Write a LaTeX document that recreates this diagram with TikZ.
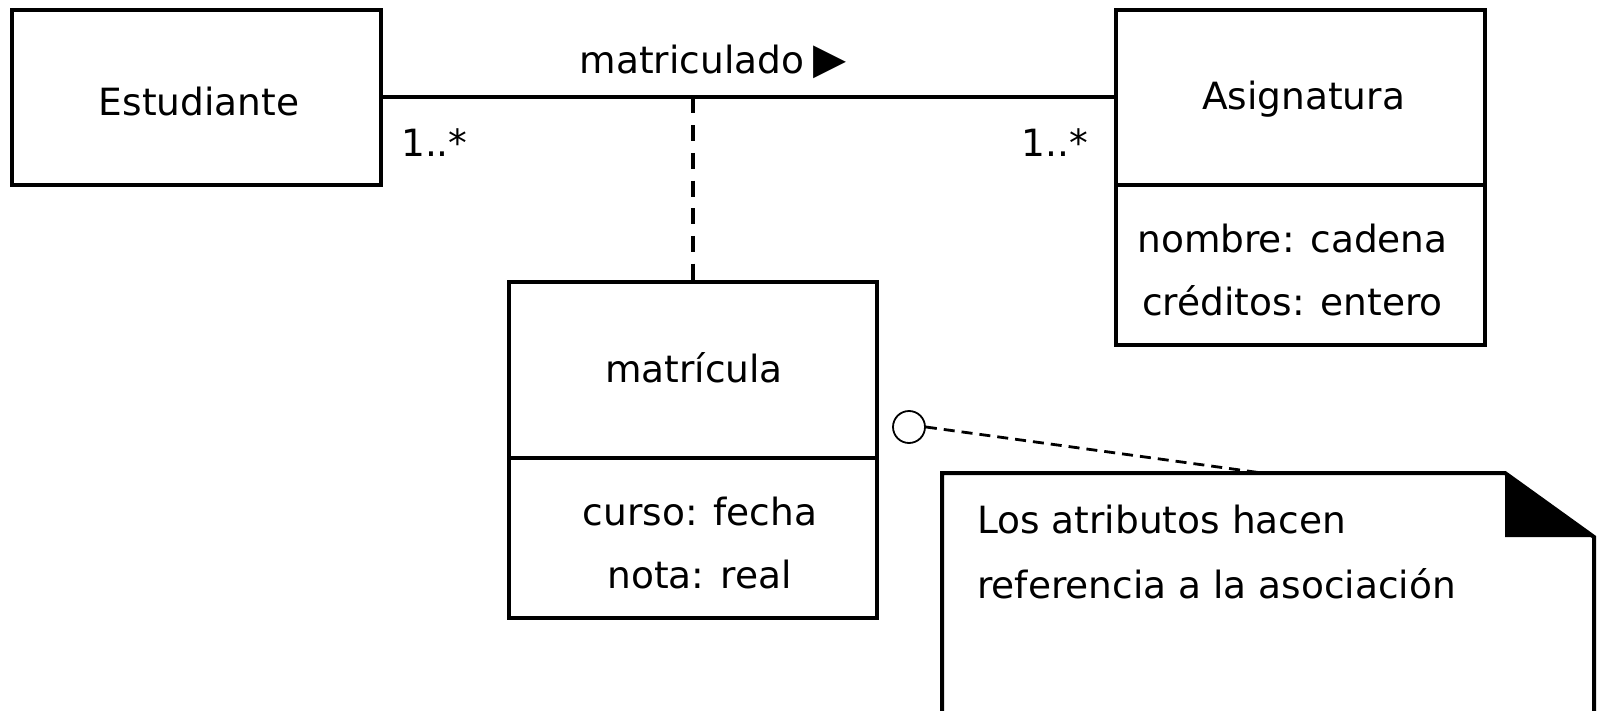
\documentclass[tikz,border=0pt]{standalone}
\usepackage{fontspec}
\setmainfont{DejaVu Sans}
\begin{document}
\begin{tikzpicture}[x=1pt,y=-1pt,
  umlbox/.style={draw, line width=4pt, rectangle, inner sep=0pt},
  txt/.style={inner sep=0pt, anchor=base, font=\fontsize{37.5}{37.5}\selectfont},
  assoc/.style={line width=4pt},
  assocdash/.style={line width=3.8pt, dash pattern=on 16pt off 11.7pt},
  notedash/.style={line width=2.8pt, dash pattern=on 11pt off 7pt},
  notebox/.style={line width=4pt, line join=miter}
]
\useasboundingbox (0,0) rectangle (1597,711);
\fill[white] (0,0) rectangle (1597,711);

% Estudiante
\node[umlbox, minimum width=369pt, minimum height=175pt] (est) at (196.5,97.5) {};
\node[txt] (estT) at (199,116) {Estudiante};

% Asignatura
\node[umlbox, minimum width=369pt, minimum height=175pt] (asigN) at (1300.5,97.5) {};
\node[umlbox, minimum width=369pt, minimum height=160pt] (asigA) at (1300.5,265) {};
\node[txt] (asigT) at (1303.5,110) {Asignatura};
\node[txt] (asigA1) at (1292.5,253) {nombre: cadena};
\node[txt] (asigA2) at (1292.5,315) {créditos: entero};

% matricula
\node[umlbox, minimum width=368pt, minimum height=176pt] (matN) at (693,370) {};
\node[umlbox, minimum width=368pt, minimum height=160pt] (matA) at (693,538) {};
\node[txt] (matT) at (694,382) {matrícula};
\node[txt] (matA1) at (700,525) {curso: fecha};
\node[txt] (matA2) at (699.5,588) {nota: real};

% association
\draw[assoc] (est.east) -- (asigN.west);
\node[txt] (assocL) at (692,74) {matriculado};
\node[txt, anchor=base west, font=\fontsize{43}{43}\selectfont] (assocDir) at ([xshift=9pt]assocL.base east) {▶};
\node[txt, anchor=base west] (multL) at (401,157) {1..*};
\node[txt, anchor=base east] (multR) at (1088,157) {1..*};
\coordinate (assocMid) at (matN.north |- est.east);
\draw[assocdash] (assocMid) -- (matN.north);

% note
\node[circle, draw, line width=1.8pt, minimum size=32pt, inner sep=0pt] (circ) at (909,427) {};
\coordinate (nTL) at (942,473);
\coordinate (nFold) at (1505,473);
\coordinate (nFoldB) at (1505,537);
\coordinate (nFoldR) at (1594,537);
\coordinate (nBR) at (1594,740);
\coordinate (nBL) at (942,740);
\coordinate (nAttach) at (1262,473);
\begin{scope}
\clip (0,0) rectangle (1597,711);
\draw[notebox] (nBL) -- (nTL) -- (nFold) -- (nFoldR) -- (nBR);
\fill (nFold) -- (nFoldB) -- (nFoldR) -- cycle;
\end{scope}
\draw[notedash] (circ.east) -- (nAttach);
\node[txt, anchor=base west] (note1) at (977,533) {Los atributos hacen};
\node[txt, anchor=base west] (note2) at (977,598) {referencia a la asociación};
\end{tikzpicture}
\end{document}
